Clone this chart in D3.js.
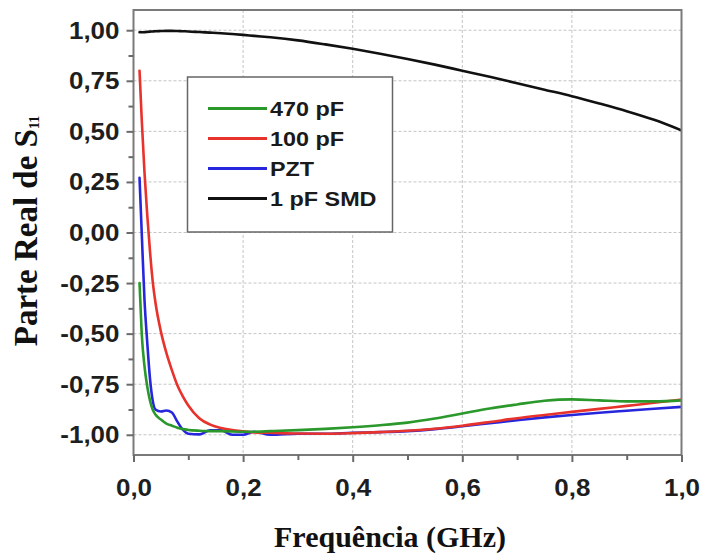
<!DOCTYPE html>
<html>
<head>
<meta charset="utf-8">
<script src="https://cdn.jsdelivr.net/npm/d3@7"></script>
<style>
  html, body { margin: 0; padding: 0; background: #fff; }
  svg { display: block; }
</style>
</head>
<body>
<svg id="chart" width="703" height="559"></svg>
<script>
// ---------- DATA ----------
const freq = [0.011,0.015,0.02,0.025,0.03,0.035,0.04,0.05,0.06,0.07,0.08,0.09,0.1,0.12,0.14,0.16,0.18,0.2,0.22,0.25,0.3,0.35,0.4,0.45,0.5,0.55,0.6,0.65,0.7,0.75,0.8,0.85,0.9,0.95,1.0];
const s470pF = [-0.25,-0.5,-0.66,-0.76,-0.83,-0.875,-0.9,-0.925,-0.945,-0.955,-0.965,-0.972,-0.976,-0.98,-0.982,-0.982,-0.984,-0.985,-0.985,-0.982,-0.977,-0.971,-0.963,-0.953,-0.94,-0.92,-0.895,-0.87,-0.85,-0.832,-0.825,-0.83,-0.835,-0.835,-0.83];
const s100pF = [0.80,0.56,0.30,0.09,-0.09,-0.24,-0.345,-0.49,-0.595,-0.68,-0.755,-0.81,-0.855,-0.918,-0.95,-0.967,-0.977,-0.983,-0.988,-0.99,-0.994,-0.995,-0.992,-0.987,-0.98,-0.97,-0.955,-0.937,-0.918,-0.902,-0.887,-0.872,-0.857,-0.842,-0.826];
const sPZT = [0.27,0.0,-0.33,-0.54,-0.72,-0.83,-0.875,-0.885,-0.88,-0.89,-0.935,-0.975,-0.995,-0.998,-0.978,-0.978,-1.0,-1.0,-0.985,-1.0,-0.995,-0.995,-0.99,-0.987,-0.982,-0.972,-0.958,-0.943,-0.928,-0.914,-0.902,-0.891,-0.881,-0.871,-0.862];
const s1pFSMD = [0.99,0.99,0.99,0.992,0.993,0.994,0.995,0.996,0.997,0.997,0.996,0.995,0.994,0.991,0.988,0.985,0.981,0.977,0.972,0.965,0.95,0.93,0.908,0.884,0.858,0.83,0.80,0.77,0.738,0.706,0.674,0.638,0.60,0.557,0.505];

const seriesNames = ["470 pF", "100 pF", "PZT", "1 pF SMD"];
const seriesValues = [s470pF, s100pF, sPZT, s1pFSMD];
const seriesColors = ["#2a982a", "#e8322c", "#2626dc", "#111111"];

const xTickValues = [0, 0.2, 0.4, 0.6, 0.8, 1.0];
const xTickLabels = ["0,0", "0,2", "0,4", "0,6", "0,8", "1,0"];
const xMinorTicks = [0.1, 0.3, 0.5, 0.7, 0.9];
const yTickValues = [-1, -0.75, -0.5, -0.25, 0, 0.25, 0.5, 0.75, 1];
const yTickLabels = ["-1,00", "-0,75", "-0,50", "-0,25", "0,00", "0,25", "0,50", "0,75", "1,00"];
const yMinorTicks = [-0.875, -0.625, -0.375, -0.125, 0.125, 0.375, 0.625, 0.875];

const xTitle = "Frequência (GHz)";
const yTitleMain = "Parte Real de S";
const yTitleSub = "11";

// ---------- LAYOUT ----------
const svg = d3.select("#chart");
const L = 133.5, R = 681.5, T = 10, B = 455;
const x = d3.scaleLinear().domain([0, 1]).range([L, R]);
const y = d3.scaleLinear().domain([-1.1, 1.1]).range([B, T]);

const sansFont = "'Liberation Sans', Arial, sans-serif";
const serifFont = "'Liberation Serif', 'Times New Roman', serif";

// grid
const grid = svg.append("g").attr("stroke", "#c4c4c4").attr("stroke-width", 1).attr("stroke-dasharray", "3,2");
grid.selectAll("line.gx").data(xTickValues.filter(v => v > 0 && v < 1)).join("line")
  .attr("x1", d => x(d)).attr("x2", d => x(d)).attr("y1", T).attr("y2", B);
grid.selectAll("line.gy").data(yTickValues).join("line")
  .attr("x1", L).attr("x2", R).attr("y1", d => y(d)).attr("y2", d => y(d));

// clip
svg.append("clipPath").attr("id", "clip").append("rect")
  .attr("x", L).attr("y", T).attr("width", R - L).attr("height", B - T);

// series
const line = d3.line().x((d, i) => x(freq[i])).y(d => y(d)).curve(d3.curveMonotoneX);
const plotG = svg.append("g").attr("clip-path", "url(#clip)");
const order = [3, 2, 1, 0];
order.forEach(k => {
  plotG.append("path")
    .datum(seriesValues[k])
    .attr("fill", "none")
    .attr("stroke", seriesColors[k])
    .attr("stroke-width", 2.6)
    .attr("stroke-linejoin", "round")
    .attr("stroke-linecap", "round")
    .attr("d", line);
});

// legend
const lg = svg.append("g");
lg.append("rect").attr("x", 187.5).attr("y", 77).attr("width", 205).attr("height", 155)
  .attr("fill", "#fff").attr("stroke", "#666").attr("stroke-width", 1.5);
const legendY0 = 108.5, legendDy = 30;
seriesNames.forEach((name, i) => {
  const ly = legendY0 + i * legendDy;
  lg.append("line").attr("x1", 208).attr("x2", 267).attr("y1", ly).attr("y2", ly)
    .attr("stroke", seriesColors[i]).attr("stroke-width", 3);
  lg.append("text")
    .attr("transform", `translate(270,${ly + 7}) scale(1.2,1)`)
    .attr("font-family", sansFont).attr("font-weight", "bold").attr("font-size", 19.5)
    .attr("fill", "#1a1a1a")
    .text(name);
});

// frame
svg.append("rect").attr("x", L).attr("y", T).attr("width", R - L).attr("height", B - T)
  .attr("fill", "none").attr("stroke", "#7a7a7a").attr("stroke-width", 2);

// axes
const xAxis = svg.append("g").attr("transform", `translate(0,${B})`)
  .call(d3.axisBottom(x).tickValues(xTickValues).tickSize(7).tickFormat((d, i) => xTickLabels[i]));
const xMinor = svg.append("g").attr("transform", `translate(0,${B})`)
  .call(d3.axisBottom(x).tickValues(xMinorTicks).tickSize(5).tickFormat(""));
const yAxis = svg.append("g").attr("transform", `translate(${L},0)`)
  .call(d3.axisLeft(y).tickValues(yTickValues).tickSize(7).tickFormat((d, i) => yTickLabels[i]));
const yMinor = svg.append("g").attr("transform", `translate(${L},0)`)
  .call(d3.axisLeft(y).tickValues(yMinorTicks).tickSize(5).tickFormat(""));

[xAxis, xMinor, yAxis, yMinor].forEach(g => {
  g.select(".domain").remove();
  g.selectAll(".tick line").attr("stroke", "#6a6a6a").attr("stroke-width", 2);
});

xAxis.selectAll(".tick text")
  .attr("x", 0).attr("y", 0).attr("dy", 0)
  .attr("transform", "translate(0,41) scale(1.13,1)")
  .attr("font-family", sansFont).attr("font-weight", "bold").attr("font-size", 23)
  .attr("fill", "#1e1e1e");
yAxis.selectAll(".tick text")
  .attr("x", 0).attr("dy", "0.35em")
  .attr("transform", "translate(-14,0) scale(1.13,1)")
  .attr("font-family", sansFont).attr("font-weight", "bold").attr("font-size", 23)
  .attr("fill", "#1e1e1e");

// titles
svg.append("text").attr("x", 390).attr("y", 547).attr("text-anchor", "middle")
  .attr("font-family", serifFont).attr("font-weight", "bold").attr("font-size", 30)
  .attr("fill", "#111").text(xTitle);

const yt = svg.append("text").attr("transform", "translate(37,231) rotate(-90)")
  .attr("text-anchor", "middle")
  .attr("font-family", serifFont).attr("font-weight", "bold").attr("font-size", 33)
  .attr("fill", "#111");
yt.append("tspan").text(yTitleMain);
yt.append("tspan").attr("font-size", 14).attr("dy", 2).text(yTitleSub);
</script>
</body>
</html>
